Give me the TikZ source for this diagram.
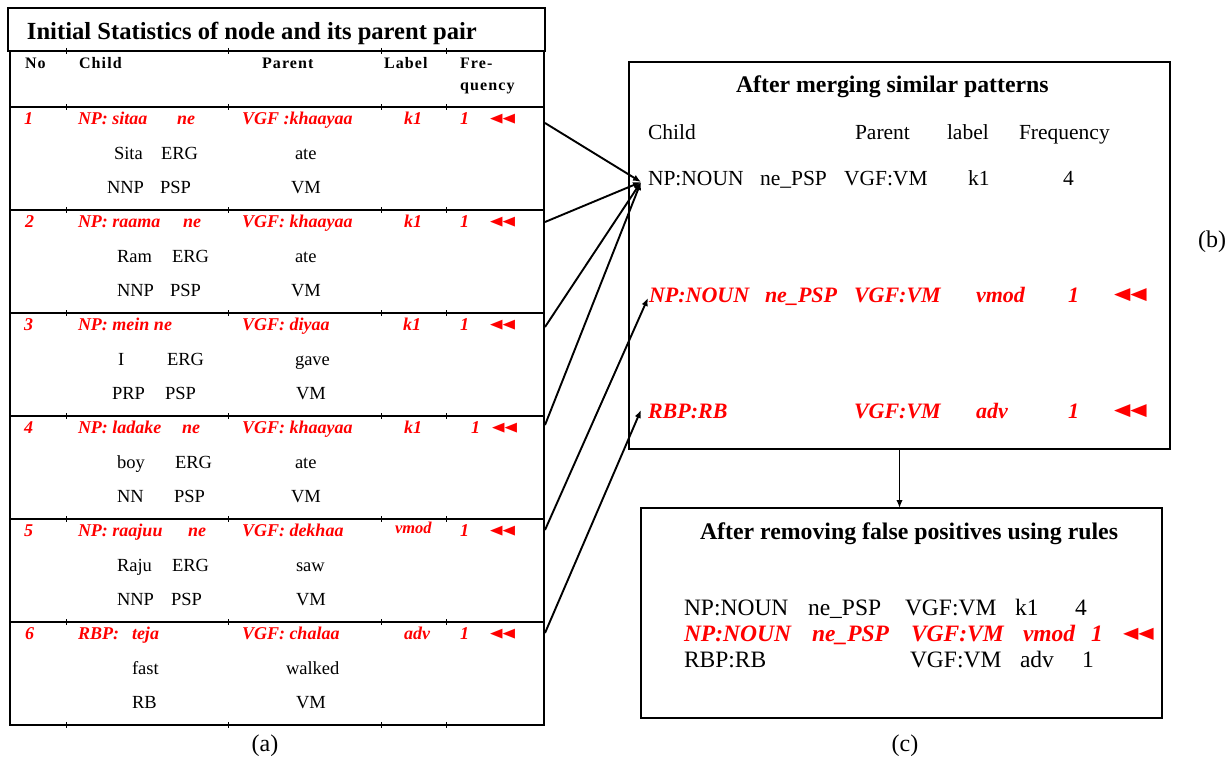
\documentclass[tikz,border=0pt]{standalone}
\usepackage{fontspec}
\setmainfont{Liberation Serif}
\newfontfamily\hdrfont[LetterSpace=7]{Liberation Serif}
\newfontfamily\symfont[FakeStretch=1.25]{DejaVu Sans}
\usetikzlibrary{arrows.meta}
\tikzset{
  txt/.style={anchor=west, inner sep=0pt, outer sep=0pt, text depth=0pt},
  blk/.style={txt, font=\fontsize{18.5}{20}\selectfont, text height=12.2pt},
  rr/.style={txt, text=red, font=\fontsize{18}{20}\selectfont\bfseries\itshape, text height=11.9pt},
  hdr/.style={txt, font=\fontsize{16}{18}\hdrfont\bfseries, text height=10.6pt},
  ttl/.style={txt, font=\fontsize{24.6}{26}\selectfont\bfseries, text height=16.2pt},
  bttl/.style={txt, font=\fontsize{23.8}{26}\selectfont\bfseries, text height=15.8pt},
  tri/.style={anchor=west, inner sep=0pt, outer sep=0pt, text=red, font=\fontsize{13}{14}\symfont},
  bblk/.style={txt, font=\fontsize{21.5}{24}\selectfont, text height=14.2pt},
  brr/.style={txt, text=red, font=\fontsize{22}{24}\selectfont\bfseries\itshape, text height=14.6pt},
  btri/.style={tri, font=\fontsize{17}{20}\symfont},
  cblk/.style={txt, font=\fontsize{23.5}{26}\selectfont, text height=15.6pt},
  crr/.style={txt, text=red, font=\fontsize{23.5}{26}\selectfont\bfseries\itshape, text height=15.6pt},
  ctri/.style={tri, font=\fontsize{16}{18}\symfont},
  sublabel/.style={font=\fontsize{24}{26}\selectfont, inner sep=0pt},
  frame/.style={draw, inner sep=0pt, outer sep=0pt, anchor=north west},
  arr/.style={line width=1.9pt, -{Latex[length=8pt,width=6.5pt]}},
}
\begin{document}
\begin{tikzpicture}[x=1pt,y=-1pt]
\useasboundingbox[fill=white] (0,0) rectangle (1231,760);

% ---------- table (a) ----------
\node[frame, line width=1.3pt, minimum width=534pt, minimum height=674pt] (tab) at (10,51) {};
\foreach \yy in {107,210,313,416,519,622}
  \draw[line width=1.3pt] (10,\yy) -- (544,\yy);
\foreach \yy in {51,107,210,313,416,519,622,725}
  \foreach \xx in {66,228,381,446}
    \draw[line width=0.8pt] (\xx,\yy-3) -- (\xx,\yy+3);
\node[frame, line width=2.2pt, minimum width=537pt, minimum height=43pt] (tbox) at (8,8) {};
\node[ttl] (title) at (27,31) {Initial Statistics of node and its parent pair};

\node[hdr] (hno) at (25,63) {No};
\node[hdr] (hch) at (79,63) {Child};
\node[hdr] (hpa) at (262,63) {Parent};
\node[hdr] (hla) at (384,63) {Label};
\node[hdr] (hfr) at (460,63) {Fre-};
\node[hdr] (hqu) at (460,85) {quency};

% row 1
\node[rr] (r1n) at (24,119) {1};
\node[rr] (r1c) at (78,119) {NP: sitaa};
\node[rr] (r1e) at (177,119) {ne};
\node[rr] (r1p) at (242,119) {VGF :khaayaa};
\node[rr] (r1l) at (404,119) {k1};
\node[rr] (r1f) at (460,119) {1};
\node[tri] (r1t) at (490,119) {◀◀};
\node[blk] (r1a) at (114,153) {Sita};
\node[blk] (r1b) at (161,153) {ERG};
\node[blk] (r1v) at (295,153) {ate};
\node[blk] (r1x) at (107,187) {NNP};
\node[blk] (r1y) at (160,187) {PSP};
\node[blk] (r1z) at (291,187) {VM};
% row 2
\node[rr] (r2n) at (25,222) {2};
\node[rr] (r2c) at (78,222) {NP: raama};
\node[rr] (r2e) at (183,222) {ne};
\node[rr] (r2p) at (242,222) {VGF: khaayaa};
\node[rr] (r2l) at (404,222) {k1};
\node[rr] (r2f) at (460,222) {1};
\node[tri] (r2t) at (490,222) {◀◀};
\node[blk] (r2a) at (117,256) {Ram};
\node[blk] (r2b) at (172,256) {ERG};
\node[blk] (r2v) at (295,256) {ate};
\node[blk] (r2x) at (117,290) {NNP};
\node[blk] (r2y) at (170,290) {PSP};
\node[blk] (r2z) at (291,290) {VM};
% row 3
\node[rr] (r3n) at (24,325) {3};
\node[rr] (r3c) at (78,325) {NP: mein ne};
\node[rr] (r3p) at (242,325) {VGF: diyaa};
\node[rr] (r3l) at (403,325) {k1};
\node[rr] (r3f) at (460,325) {1};
\node[tri] (r3t) at (490,325) {◀◀};
\node[blk] (r3a) at (118,359) {I};
\node[blk] (r3b) at (167,359) {ERG};
\node[blk] (r3v) at (295,359) {gave};
\node[blk] (r3x) at (112,393) {PRP};
\node[blk] (r3y) at (165,393) {PSP};
\node[blk] (r3z) at (296,393) {VM};
% row 4
\node[rr] (r4n) at (24,428) {4};
\node[rr] (r4c) at (78,428) {NP: ladake};
\node[rr] (r4e) at (182,428) {ne};
\node[rr] (r4p) at (242,428) {VGF: khaayaa};
\node[rr] (r4l) at (404,428) {k1};
\node[rr] (r4f) at (471,428) {1};
\node[tri] (r4t) at (492,428) {◀◀};
\node[blk] (r4a) at (117,462) {boy};
\node[blk] (r4b) at (175,462) {ERG};
\node[blk] (r4v) at (295,462) {ate};
\node[blk] (r4x) at (117,496) {NN};
\node[blk] (r4y) at (174,496) {PSP};
\node[blk] (r4z) at (291,496) {VM};
% row 5
\node[rr] (r5n) at (24,531) {5};
\node[rr] (r5c) at (78,531) {NP: raajuu};
\node[rr] (r5e) at (188,531) {ne};
\node[rr] (r5p) at (242,531) {VGF: dekhaa};
\node[rr, font=\fontsize{16.5}{18}\selectfont\bfseries\itshape] (r5l) at (395,528) {vmod};
\node[rr] (r5f) at (460,531) {1};
\node[tri] (r5t) at (490,531) {◀◀};
\node[blk] (r5a) at (117,565) {Raju};
\node[blk] (r5b) at (172,565) {ERG};
\node[blk] (r5v) at (296,565) {saw};
\node[blk] (r5x) at (117,599) {NNP};
\node[blk] (r5y) at (171,599) {PSP};
\node[blk] (r5z) at (296,599) {VM};
% row 6
\node[rr] (r6n) at (25,634) {6};
\node[rr] (r6c) at (78,634) {RBP:};
\node[rr] (r6e) at (132,634) {teja};
\node[rr] (r6p) at (242,634) {VGF: chalaa};
\node[rr] (r6l) at (404,634) {adv};
\node[rr] (r6f) at (460,634) {1};
\node[tri] (r6t) at (490,634) {◀◀};
\node[blk] (r6a) at (132,668) {fast};
\node[blk] (r6v) at (286,668) {walked};
\node[blk] (r6x) at (132,702) {RB};
\node[blk] (r6z) at (296,702) {VM};

\node[sublabel] (capa) at (265,746) {(a)};

% ---------- box (b) ----------
\node[frame, line width=2pt, minimum width=541pt, minimum height=387pt] (boxb) at (629,62) {};
\node[bttl] (btitle) at (736,85) {After merging similar patterns};
\node[bblk] (bh1) at (648,132) {Child};
\node[bblk] (bh2) at (855,132) {Parent};
\node[bblk] (bh3) at (947,132) {label};
\node[bblk] (bh4) at (1019,132) {Frequency};
\node[bblk] (bn1) at (648,178) {NP:NOUN};
\node[bblk] (bn2) at (760,178) {ne\_PSP};
\node[bblk] (bn3) at (844,178) {VGF:VM};
\node[bblk] (bn4) at (968,178) {k1};
\node[bblk] (bn5) at (1063,178) {4};
\node[brr] (br1) at (649,295) {NP:NOUN};
\node[brr] (br2) at (765,295) {ne\_PSP};
\node[brr] (br3) at (854,295) {VGF:VM};
\node[brr] (br4) at (976,295) {vmod};
\node[brr] (br5) at (1068,295) {1};
\node[btri] (br6) at (1114,295) {◀◀};
\node[brr] (bs1) at (648,411) {RBP:RB};
\node[brr] (bs3) at (854,411) {VGF:VM};
\node[brr] (bs4) at (976,411) {adv};
\node[brr] (bs5) at (1068,411) {1};
\node[btri] (bs6) at (1114,411) {◀◀};
\node[sublabel] (capb) at (1212,242) {(b)};

% ---------- box (c) ----------
\node[frame, line width=2.5pt, minimum width=521pt, minimum height=210pt] (boxc) at (641,508) {};
\node[bttl] (ctitle) at (700,532) {After removing false positives using rules};
\node[cblk] (c11) at (684,608) {NP:NOUN};
\node[cblk] (c12) at (808,608) {ne\_PSP};
\node[cblk] (c13) at (905,608) {VGF:VM};
\node[cblk] (c14) at (1015,608) {k1};
\node[cblk] (c15) at (1075,608) {4};
\node[crr] (c21) at (684,634) {NP:NOUN};
\node[crr] (c22) at (812,634) {ne\_PSP};
\node[crr] (c23) at (911,634) {VGF:VM};
\node[crr] (c24) at (1023,634) {vmod};
\node[crr] (c25) at (1091,634) {1};
\node[ctri] (c26) at (1123,634) {◀◀};
\node[cblk] (c31) at (684,660) {RBP:RB};
\node[cblk] (c33) at (910,660) {VGF:VM};
\node[cblk] (c34) at (1020,660) {adv};
\node[cblk] (c35) at (1082,660) {1};
\node[sublabel] (capc) at (905,746) {(c)};

% ---------- connectors ----------
\coordinate (s1) at (545,123);
\coordinate (s2) at (545,222);
\coordinate (s3) at (545,327);
\coordinate (s4) at (545,425);
\coordinate (s5) at (545,530);
\coordinate (s6) at (545,633);
\draw[arr] (s1) -- ([shift={(-7pt,-4pt)}]bn1.west);
\draw[arr] (s2) -- ([shift={(-7pt,-4pt)}]bn1.west);
\draw[arr] (s3) -- ([shift={(-7pt,-4pt)}]bn1.west);
\draw[arr] (s4) -- ([shift={(-7pt,-4pt)}]bn1.west);
\draw[arr] (s5) -- ([shift={(-1pt,-3pt)}]br1.west);
\draw[arr] (s6) -- ([shift={(-7pt,1pt)}]bs1.west);
\draw[arr] (boxb.south) -- (boxb.south |- boxc.north);
\end{tikzpicture}
\end{document}
